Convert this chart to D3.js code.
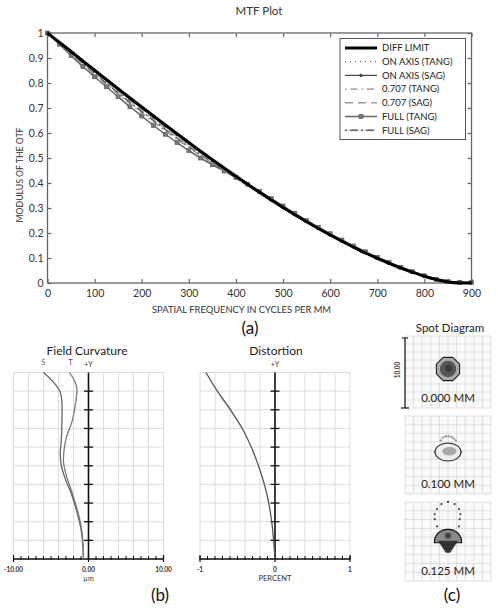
<!DOCTYPE html>
<html><head><meta charset="utf-8">
<script src="https://cdn.jsdelivr.net/npm/d3@7"></script>
<style>body{margin:0;background:#fff}svg{display:block}text{font-family:Lato,"Liberation Sans",sans-serif}</style>
</head><body><svg id="c" width="498" height="610"></svg>
<script>
// ---------- MTF data ----------
const freq = [0,25,50,75,100,125,150,175,200,225,250,275,300,325,350,375,400,425,450,475,500,525,550,575,600,625,650,675,700,725,750,775,800,825,850,875,900];
const diffLimit = [1.000,0.963,0.926,0.888,0.851,0.814,0.777,0.740,0.704,0.668,0.632,0.597,0.562,0.527,0.493,0.460,0.427,0.395,0.363,0.332,0.302,0.273,0.245,0.218,0.192,0.167,0.143,0.120,0.099,0.079,0.060,0.043,0.027,0.014,0.004,0.000,0.000];
const onAxisTang = [1.000,0.961,0.923,0.885,0.847,0.810,0.773,0.736,0.700,0.664,0.628,0.593,0.558,0.524,0.490,0.457,0.424,0.392,0.361,0.330,0.300,0.272,0.244,0.217,0.191,0.166,0.142,0.120,0.099,0.079,0.061,0.044,0.029,0.016,0.007,0.003,0.002];
const onAxisSag = [1.000,0.961,0.923,0.885,0.847,0.810,0.773,0.736,0.700,0.664,0.628,0.593,0.558,0.524,0.490,0.457,0.424,0.392,0.361,0.330,0.300,0.272,0.244,0.217,0.191,0.166,0.142,0.120,0.099,0.079,0.061,0.044,0.029,0.016,0.007,0.003,0.002];
const p707Tang = [1.000,0.958,0.916,0.875,0.834,0.794,0.755,0.717,0.680,0.644,0.609,0.575,0.542,0.510,0.479,0.449,0.419,0.389,0.359,0.330,0.302,0.274,0.247,0.221,0.195,0.170,0.146,0.123,0.102,0.082,0.063,0.046,0.031,0.018,0.009,0.004,0.002];
const p707Sag = [1.000,0.960,0.920,0.881,0.842,0.804,0.766,0.729,0.692,0.656,0.620,0.585,0.551,0.518,0.485,0.453,0.421,0.390,0.360,0.330,0.301,0.273,0.246,0.219,0.193,0.168,0.144,0.122,0.101,0.081,0.062,0.045,0.030,0.017,0.008,0.003,0.002];
const fullTang = [1.000,0.955,0.910,0.866,0.825,0.785,0.745,0.705,0.668,0.630,0.595,0.562,0.530,0.500,0.473,0.448,0.422,0.395,0.367,0.338,0.308,0.279,0.250,0.223,0.197,0.172,0.148,0.125,0.103,0.082,0.063,0.045,0.029,0.015,0.006,0.003,0.002];
const fullSag = [1.000,0.959,0.918,0.878,0.838,0.799,0.761,0.723,0.686,0.650,0.615,0.580,0.546,0.513,0.481,0.450,0.420,0.390,0.360,0.331,0.302,0.274,0.246,0.220,0.194,0.169,0.145,0.123,0.101,0.081,0.062,0.045,0.030,0.017,0.008,0.003,0.002];
const seriesNames = ["DIFF LIMIT","ON AXIS (TANG)","ON AXIS (SAG)","0.707 (TANG)","0.707 (SAG)","FULL (TANG)","FULL (SAG)"];
const xTicks = [0,100,200,300,400,500,600,700,800,900];
const yTicks = [0,0.1,0.2,0.3,0.4,0.5,0.6,0.7,0.8,0.9,1];

// ---------- Field curvature / distortion data ----------
const fcFieldS = [1.0,0.948,0.895,0.841,0.734,0.627,0.574,0.503,0.431,0.342,0.253,0.164,0.075,0];
const fcSag    = [-6.0,-4.67,-3.77,-3.55,-3.55,-3.64,-3.77,-3.64,-3.11,-2.22,-1.55,-1.02,-0.75,-0.67];
const fcFieldT = [1.0,0.948,0.912,0.823,0.734,0.663,0.591,0.520,0.449,0.360,0.271,0.182,0.093,0];
const fcTan    = [-2.55,-1.77,-1.55,-1.77,-2.22,-2.88,-3.24,-3.33,-2.97,-2.22,-1.55,-1.02,-0.75,-0.67];
const distField = [1.0,0.897,0.796,0.696,0.595,0.497,0.400,0.302,0.20,0.10,0];
const distVal   = [-0.92,-0.764,-0.587,-0.431,-0.311,-0.218,-0.142,-0.084,-0.044,-0.018,0];
const fcTickLabels = ["-10.00","0.00","10.00"];
const distTickLabels = ["-1","0","1"];

// ---------- Spot diagram data (µm) ----------
const spotLabels = ["0.000 MM","0.100 MM","0.125 MM"];
const spot3RingX = [0,-0.92,0.93,-1.53,1.53,-1.85,1.73,-1.85,1.63,-1.53,1.53];
const spot3RingY = [5.4,5.1,5.1,4.4,4.4,3.7,3.7,3.0,3.0,2.0,2.0];
const spot2TopX = [-0.7,-0.3,0.1,0.5,0.8,-1.0,1.1];
const spot2TopY = [2.0,2.2,2.2,2.1,1.9,1.6,1.6];

const svg = d3.select("#c");
const ink = "#222";

// ================= (a) MTF =================
const x = d3.scaleLinear().domain([0,900]).range([47.5,471.5]);
const y = d3.scaleLinear().domain([0,1]).range([283,33]);
const gA = svg.append("g");

gA.append("text").attr("x",259).attr("y",15).attr("text-anchor","middle")
  .attr("font-size",11.5).attr("fill","#333").text("MTF Plot");

const axB = gA.append("g").attr("transform","translate(0,283)")
  .call(d3.axisBottom(x).tickValues(xTicks).tickSizeInner(-4).tickSizeOuter(0).tickPadding(7));
const axL = gA.append("g").attr("transform","translate(47.5,0)")
  .call(d3.axisLeft(y).tickValues(yTicks).tickFormat(d3.format("~g")).tickSizeInner(-4).tickSizeOuter(0).tickPadding(4));
const axT = gA.append("g").attr("transform","translate(0,33)")
  .call(d3.axisTop(x).tickValues(xTicks).tickFormat("").tickSizeInner(-4).tickSizeOuter(0));
const axR = gA.append("g").attr("transform","translate(471.5,0)")
  .call(d3.axisRight(y).tickValues(yTicks).tickFormat("").tickSizeInner(-4).tickSizeOuter(0));
[axB,axL,axT,axR].forEach(a=>{
  a.select(".domain").remove();
  a.selectAll("line").attr("stroke","#666").attr("stroke-width",1.2);
  a.selectAll("text").attr("font-size",10.5).attr("fill","#333").attr("font-family","Lato, sans-serif");
});
gA.append("rect").attr("x",47.5).attr("y",33).attr("width",424).attr("height",250)
  .attr("fill","none").attr("stroke","#666").attr("stroke-width",1.3);

gA.append("text").attr("x",241.5).attr("y",313).attr("text-anchor","middle")
  .attr("font-size",9.5).attr("fill","#333").attr("textLength",179).attr("lengthAdjust","spacingAndGlyphs")
  .text("SPATIAL FREQUENCY IN CYCLES PER MM");
gA.append("text").attr("transform","translate(23,175) rotate(-90)").attr("text-anchor","middle")
  .attr("font-size",9.5).attr("fill","#333").attr("textLength",95).attr("lengthAdjust","spacingAndGlyphs")
  .text("MODULUS OF THE OTF");

const styles = [
  {data:diffLimit, stroke:"#000", w:3, dash:null, marker:null},
  {data:onAxisTang, stroke:"#666", w:1.2, dash:"1,4", marker:null},
  {data:onAxisSag, stroke:"#444", w:1.2, dash:null, marker:"dot"},
  {data:p707Tang, stroke:"#888", w:1.3, dash:"1.5,4,7,4", marker:null},
  {data:p707Sag, stroke:"#9a9a9a", w:1.5, dash:"8,5", marker:null},
  {data:fullTang, stroke:"#666", w:1.5, dash:null, marker:"sq"},
  {data:fullSag, stroke:"#555", w:1.5, dash:"2,3,8,3", marker:null}
];
const line = d3.line().x((d,i)=>x(freq[i])).y(d=>y(d)).curve(d3.curveMonotoneX);
const order = [5,6,4,3,2,1,0];
order.forEach(k=>{
  const s = styles[k];
  gA.append("path").attr("d",line(s.data)).attr("fill","none").attr("stroke",s.stroke)
    .attr("stroke-width",s.w).attr("stroke-dasharray",s.dash);
  if (s.marker==="sq") {
    gA.selectAll(null).data(s.data).enter().append("rect")
      .attr("x",(d,i)=>x(freq[i])-2).attr("y",d=>y(d)-2).attr("width",4).attr("height",4)
      .attr("fill","#777").attr("stroke","#555").attr("stroke-width",0.6);
  } else if (s.marker==="dot") {
    gA.selectAll(null).data(s.data).enter().append("circle")
      .attr("cx",(d,i)=>x(freq[i])).attr("cy",d=>y(d)).attr("r",1.4).attr("fill","#444");
  }
});

// legend
const lg = gA.append("g");
lg.append("rect").attr("x",340).attr("y",38.5).attr("width",125.5).attr("height",101)
  .attr("fill","#fff").attr("stroke","#555").attr("stroke-width",1);
seriesNames.forEach((name,i)=>{
  const s = styles[i], yy = 48 + i*13.7;
  lg.append("line").attr("x1",345).attr("x2",377).attr("y1",yy).attr("y2",yy)
    .attr("stroke",s.stroke).attr("stroke-width",s.w).attr("stroke-dasharray",s.dash);
  if (s.marker==="sq") lg.append("rect").attr("x",359).attr("y",yy-2).attr("width",4).attr("height",4).attr("fill","#777").attr("stroke","#555").attr("stroke-width",0.6);
  if (s.marker==="dot") lg.append("circle").attr("cx",361).attr("cy",yy).attr("r",1.6).attr("fill","#444");
  lg.append("text").attr("x",382).attr("y",yy+3.3).attr("font-size",9.5).attr("fill","#222").text(name);
});

gA.append("text").attr("x",250).attr("y",334).attr("text-anchor","middle")
  .attr("font-size",17).attr("font-family","'DejaVu Serif','Liberation Serif',serif").attr("fill","#111").text("(a)");

// ================= (b) Field curvature & Distortion =================
const yF = d3.scaleLinear().domain([0,1]).range([559,372.5]);
function panel(xs, gridVals, minorVals, labelVals, labels, unitText, title, titleX) {
  const g = svg.append("g");
  g.selectAll(null).data(gridVals).enter().append("line")
    .attr("x1",d=>xs(d)).attr("x2",d=>xs(d)).attr("y1",yF(0)).attr("y2",yF(1))
    .attr("stroke","#d4d4d4").attr("stroke-width",0.8);
  g.selectAll(null).data(d3.range(11).map(i=>i/10)).enter().append("line")
    .attr("x1",xs.range()[0]).attr("x2",xs.range()[1]).attr("y1",d=>yF(d)).attr("y2",d=>yF(d))
    .attr("stroke","#d4d4d4").attr("stroke-width",0.8);
  // center axis
  g.append("line").attr("x1",xs(0)).attr("x2",xs(0)).attr("y1",yF(0)).attr("y2",yF(1)).attr("stroke","#111").attr("stroke-width",1.6);
  g.selectAll(null).data(d3.range(1,10).map(i=>i/10)).enter().append("line")
    .attr("x1",xs(0)-4.5).attr("x2",xs(0)+4.5).attr("y1",d=>yF(d)).attr("y2",d=>yF(d))
    .attr("stroke","#111").attr("stroke-width",1.3);
  // bottom axis
  g.append("line").attr("x1",xs.range()[0]).attr("x2",xs.range()[1]).attr("y1",yF(0)).attr("y2",yF(0)).attr("stroke","#111").attr("stroke-width",1.3);
  g.selectAll(null).data(minorVals).enter().append("line")
    .attr("x1",d=>xs(d)).attr("x2",d=>xs(d)).attr("y1",yF(0)-3).attr("y2",yF(0)+1)
    .attr("stroke","#111").attr("stroke-width",1);
  g.selectAll(null).data(labelVals).enter().append("line")
    .attr("x1",d=>xs(d)).attr("x2",d=>xs(d)).attr("y1",yF(0)-4).attr("y2",yF(0)+3)
    .attr("stroke","#111").attr("stroke-width",1.2);
  g.selectAll(null).data(labelVals).enter().append("text")
    .attr("x",d=>xs(d)).attr("y",571.5).attr("text-anchor","middle")
    .attr("font-size",6.5).attr("font-weight","bold").attr("font-family","'DejaVu Sans',sans-serif").attr("fill","#333")
    .text((d,i)=>labels[i]);
  g.append("text").attr("x",xs(0)).attr("y",581).attr("text-anchor","middle")
    .attr("font-size",unitText==="PERCENT"?7.5:7).attr("font-family","'DejaVu Sans',sans-serif").attr("fill","#333").text(unitText);
  g.append("text").attr("x",xs(0)).attr("y",366.5).attr("text-anchor","middle")
    .attr("font-size",7).attr("font-family","'DejaVu Sans',sans-serif").attr("fill","#333").text("+Y");
  g.append("text").attr("x",titleX).attr("y",355).attr("text-anchor","middle")
    .attr("font-size",12).attr("fill","#222").text(title);
  return g;
}
const xFC = d3.scaleLinear().domain([-10,10]).range([13.5,163.5]);
const gFC = panel(xFC, d3.range(-10,10.01,2), d3.range(-10,10.01,1), [-10,0,10], fcTickLabels, "µm", "Field Curvature", 87);
const fcLine = (xs,fs)=>d3.line().x((d,i)=>xFC(xs[i])).y(d=>yF(d)).curve(d3.curveCatmullRom)(fs);
gFC.append("path").attr("d",fcLine(fcSag,fcFieldS)).attr("fill","none").attr("stroke","#666").attr("stroke-width",1.3);
gFC.append("path").attr("d",fcLine(fcTan,fcFieldT)).attr("fill","none").attr("stroke","#777").attr("stroke-width",1.3);
gFC.append("text").attr("x",xFC(fcSag[0])).attr("y",365).attr("text-anchor","middle").attr("font-size",7).attr("fill","#555").attr("font-family","'DejaVu Sans',sans-serif").text("S");
gFC.append("text").attr("x",xFC(-2.4)).attr("y",365).attr("text-anchor","middle").attr("font-size",7).attr("fill","#555").attr("font-family","'DejaVu Sans',sans-serif").text("T");

const xD = d3.scaleLinear().domain([-1,1]).range([200,350]);
const gD = panel(xD, d3.range(-1,1.001,0.2), d3.range(-1,1.001,0.1), [-1,0,1], distTickLabels, "PERCENT", "Distortion", 276);
gD.append("path").attr("d", d3.line().x((d,i)=>xD(distVal[i])).y(d=>yF(d)).curve(d3.curveCatmullRom)(distField))
  .attr("fill","none").attr("stroke","#555").attr("stroke-width",1.3);

svg.append("text").attr("x",160).attr("y",601).attr("text-anchor","middle")
  .attr("font-size",17).attr("font-family","'DejaVu Serif','Liberation Serif',serif").attr("fill","#111").text("(b)");

// ================= (c) Spot diagrams =================
svg.append("text").attr("x",450).attr("y",332).attr("text-anchor","middle").attr("font-size",11.5).attr("fill","#222").text("Spot Diagram");
const boxTop = [336,416,502], boxH = [72,78,79];
const sx = d3.scaleLinear().domain([-6,6]).range([405,491]);
spotLabels.forEach((lab,k)=>{
  const g = svg.append("g");
  const t = boxTop[k], h = boxH[k];
  const cy = t + h/2 - 3;
  const sy = d3.scaleLinear().domain([-5,5]).range([cy+35.85, cy-35.85]);
  g.append("rect").attr("x",405).attr("y",t).attr("width",86).attr("height",h).attr("fill","#fafafa");
  g.selectAll(null).data(d3.range(-6,6.01,1.2)).enter().append("line")
    .attr("x1",d=>sx(d)).attr("x2",d=>sx(d)).attr("y1",t).attr("y2",t+h).attr("stroke","#d8d8d8").attr("stroke-width",0.8);
  g.selectAll(null).data(d3.range(0,h+0.1,h/9)).enter().append("line")
    .attr("x1",405).attr("x2",491).attr("y1",d=>t+d).attr("y2",d=>t+d).attr("stroke","#d8d8d8").attr("stroke-width",0.8);
  if (k===0) {
    const oct = d3.range(8).map(i=>[sx(1.75*Math.cos(i*Math.PI/4+Math.PI/8)), sy(1.75*Math.sin(i*Math.PI/4+Math.PI/8))]);
    g.append("polygon").attr("points",oct.join(" ")).attr("fill","#aaa").attr("stroke","#222").attr("stroke-width",1.1);
    g.append("circle").attr("cx",sx(0)).attr("cy",sy(0)).attr("r",sx(1.15)-sx(0)).attr("fill","#555");
    g.append("circle").attr("cx",sx(0.1)).attr("cy",sy(0.1)).attr("r",sx(0.5)-sx(0)).attr("fill","#3a3a3a");
  } else if (k===1) {
    g.selectAll(null).data(spot2TopX).enter().append("circle")
      .attr("cx",d=>sx(d)).attr("cy",(d,i)=>sy(spot2TopY[i])).attr("r",1.2).attr("fill","#999");
    g.append("ellipse").attr("cx",sx(0)).attr("cy",sy(0)).attr("rx",sx(1.8)-sx(0)).attr("ry",sx(1.25)-sx(0))
      .attr("fill","#eee").attr("stroke","#222").attr("stroke-width",1.1);
    g.append("ellipse").attr("cx",sx(0.2)).attr("cy",sy(0.1)).attr("rx",sx(1.0)-sx(0)).attr("ry",sx(0.6)-sx(0)).attr("fill","#aaa");
    g.append("circle").attr("cx",sx(-1.85)).attr("cy",sy(0)).attr("r",1).attr("fill","#555");
    g.append("circle").attr("cx",sx(1.85)).attr("cy",sy(0)).attr("r",1).attr("fill","#555");
  } else {
    g.selectAll(null).data(spot3RingX).enter().append("circle")
      .attr("cx",d=>sx(d)).attr("cy",(d,i)=>sy(spot3RingY[i]-0.3)).attr("r",1.1).attr("fill","#444");
    const dome = d3.path();
    dome.moveTo(sx(-1.9), sy(-0.6));
    dome.bezierCurveTo(sx(-2.0), sy(1.9), sx(2.0), sy(1.9), sx(1.9), sy(-0.6));
    dome.closePath();
    g.append("path").attr("d",dome.toString()).attr("fill","#888").attr("stroke","#111").attr("stroke-width",1.1);
    const stem = d3.path();
    stem.moveTo(sx(-1.4), sy(-0.3)); stem.lineTo(sx(1.4), sy(-0.3)); stem.lineTo(sx(0.3), sy(-2.0)); stem.lineTo(sx(-0.3), sy(-2.0)); stem.closePath();
    g.append("path").attr("d",stem.toString()).attr("fill","#333");
    g.append("circle").attr("cx",sx(0)).attr("cy",sy(0.4)).attr("r",3).attr("fill","#444");
  }
  g.append("text").attr("x",448).attr("y",t+h-6).attr("text-anchor","middle").attr("font-size",11.5).attr("fill","#222").text(lab);
});
// scale bar
svg.append("line").attr("x1",405).attr("x2",405).attr("y1",338).attr("y2",408).attr("stroke","#222").attr("stroke-width",1.3);
svg.append("line").attr("x1",402).attr("x2",408).attr("y1",338).attr("y2",338).attr("stroke","#222").attr("stroke-width",1.2);
svg.append("line").attr("x1",401).attr("x2",409).attr("y1",408).attr("y2",408).attr("stroke","#222").attr("stroke-width",1.3);
svg.append("text").attr("transform","translate(400,370) rotate(-90)").attr("text-anchor","middle")
  .attr("font-size",6.5).attr("font-weight","bold").attr("font-family","'DejaVu Sans',sans-serif").attr("fill","#333").text("10.00");
svg.append("text").attr("x",452).attr("y",601).attr("text-anchor","middle")
  .attr("font-size",17).attr("font-family","'DejaVu Serif','Liberation Serif',serif").attr("fill","#111").text("(c)");
</script></body></html>
